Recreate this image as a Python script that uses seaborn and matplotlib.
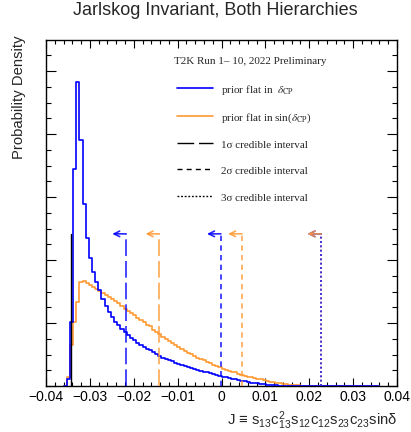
import numpy as np
import pandas as pd
import matplotlib
matplotlib.use("Agg")
import matplotlib.pyplot as plt
from matplotlib.lines import Line2D
from matplotlib.ticker import MultipleLocator, FuncFormatter
from matplotlib.font_manager import FontProperties
import seaborn as sns

# ---------------- data ----------------
J_MIN, J_MAX, N_BINS = -0.036, 0.036, 100

blue_flat_dcp = [
    0, 2.2, 20.3, 68.9, 96.5, 78.1, 57.8, 47.0, 40.6, 36.2,
    33.0, 30.5, 27.6, 25.4, 23.5, 21.9, 20.3, 19.4, 18.1, 17.1,
    16.2, 15.2, 14.6, 13.8, 13.0, 12.4, 11.7, 11.3, 10.8, 10.2,
    9.5, 9.0, 8.6, 8.3, 7.8, 7.3, 7.0, 6.7, 6.2, 5.9,
    5.6, 5.3, 5.1, 4.8, 4.5, 4.3, 4.0, 3.7, 3.5, 3.3,
    3.0, 2.8, 2.5, 2.3, 2.1, 1.9, 1.7, 1.5, 1.3, 1.1,
    0.95, 0.8, 0.64, 0.54, 0.44, 0.35, 0.25, 0.19, 0.13, 0.1,
    0.06, 0.05, 0.03, 0.02, 0.01, 0, 0, 0, 0, 0,
    0, 0, 0, 0, 0, 0, 0, 0, 0, 0,
    0, 0, 0, 0, 0, 0, 0, 0, 0, 0,
]

orange_flat_sindcp = [
    0, 2.9, 13.0, 20.3, 26.7, 33.0, 33.3, 32.7, 32.1, 31.4,
    30.8, 30.2, 29.5, 28.9, 28.3, 27.6, 27.1, 26.5, 25.4, 24.4,
    23.8, 23.2, 22.5, 21.7, 21.0, 20.2, 19.5, 18.9, 17.9, 17.1,
    16.4, 15.7, 14.9, 14.3, 13.7, 13.0, 12.4, 11.7, 11.2, 10.6,
    10.1, 9.5, 9.0, 8.6, 8.2, 7.7, 7.2, 6.8, 6.3, 5.9,
    5.4, 5.1, 4.8, 4.5, 4.3, 3.9, 3.6, 3.3, 3.0, 2.7,
    2.5, 2.3, 2.1, 1.8, 1.6, 1.4, 1.2, 1.0, 0.86, 0.73,
    0.57, 0.44, 0.35, 0.25, 0.16, 0.13, 0.1, 0.06, 0.05, 0.03,
    0.02, 0.01, 0, 0, 0, 0, 0, 0, 0, 0,
    0, 0, 0, 0, 0, 0, 0, 0, 0, 0,
]

interval_lower = -0.0344
blue_upper = {"1": -0.0218, "2": -0.0002, "3": 0.0227}
orange_upper = {"1": -0.0142, "2": 0.0046, "3": 0.0227}
interval_height = 48.3
arrow_len = 0.0031

x_ticks = [-0.04, -0.03, -0.02, -0.01, 0, 0.01, 0.02, 0.03, 0.04]

title = "Jarlskog Invariant, Both Hierarchies"
ylabel = "Probability Density"
xlabel = "J \u2261 s$\\mathregular{_{13}}$c$\\mathregular{_{13}^{2}}$s$\\mathregular{_{12}}$c$\\mathregular{_{12}}$s$\\mathregular{_{23}}$c$\\mathregular{_{23}}$sin\u03b4"
header = "T2K Run 1\u2013 10, 2022 Preliminary"
legend_labels = [
    r"prior flat in  $\delta_{\rm CP}$",
    r"prior flat in sin($\delta_{\rm CP}$)",
    "1\u03c3 credible interval",
    "2\u03c3 credible interval",
    "3\u03c3 credible interval",
]

# ---------------- style ----------------
sns.set_style("ticks")
plt.rcParams["font.family"] = ["Liberation Sans", "DejaVu Sans"]
plt.rcParams["mathtext.fontset"] = "custom"
plt.rcParams["mathtext.rm"] = "Liberation Sans"

BLUE = "#0000ff"
ORANGE = "#ff9933"
ls1 = (0, (10, 3))
ls2 = (0, (3.2, 2.6))
ls3 = (0, (1.2, 1.4))

fig = plt.figure(figsize=(4.11, 4.32), dpi=100)
ax = fig.add_axes([46 / 411, 1 - 386 / 432, 351 / 411, 346 / 432])

edges = list(np.linspace(J_MIN, J_MAX, N_BINS + 1))
centers = [0.5 * (a + b) for a, b in zip(edges[:-1], edges[1:])]
df = pd.DataFrame({"J": centers,
                   "blue": blue_flat_dcp,
                   "orange": orange_flat_sindcp})

sns.histplot(data=df, x="J", weights="blue", bins=edges, element="step",
             fill=False, color=BLUE, linewidth=1.2, ax=ax, zorder=3)
sns.histplot(data=df, x="J", weights="orange", bins=edges, element="step",
             fill=False, color=ORANGE, linewidth=1.2, ax=ax, zorder=2)

# credible interval lines (orange under blue) and arrows (blue under orange)
styles = {"1": ls1, "2": ls2, "3": ls3}
for key in ["1", "2", "3"]:
    for vals, col, al, zl, za in [(orange_upper, ORANGE, 0.85, 4, 6),
                                  (blue_upper, BLUE, 0.85, 5, 5)]:
        xv = vals[key]
        ax.plot([xv, xv], [0, interval_height], color=col, alpha=al,
                linestyle=styles[key], linewidth=1.2, zorder=zl)
        ax.annotate("", xy=(xv - arrow_len, interval_height),
                    xytext=(xv + 0.00005, interval_height),
                    arrowprops=dict(arrowstyle="->", color=col, alpha=al,
                                    lw=1.2, shrinkA=0, shrinkB=0,
                                    mutation_scale=10),
                    zorder=za)
ax.plot([interval_lower, interval_lower], [0, interval_height], color="black",
        linewidth=1.0, zorder=4)

ax.set_xlim(-0.04, 0.04)
ax.set_ylim(0, 346 / 63 * 20)
ax.set_xlabel("")
ax.set_ylabel("")
ax.set_xticks(x_ticks)
ax.xaxis.set_minor_locator(MultipleLocator(0.002))
ax.yaxis.set_major_locator(MultipleLocator(20))
ax.yaxis.set_minor_locator(MultipleLocator(5))
ax.xaxis.set_major_formatter(FuncFormatter(
    lambda v, p: "0" if abs(v) < 1e-9 else f"{v:.2f}".replace("-", "\u2212")))
ax.tick_params(which="both", direction="in", top=True, right=True,
               labelleft=False, width=0.8, colors="black")
ax.tick_params(axis="x", which="major", length=5.8, labelsize=10, pad=3)
ax.tick_params(axis="x", which="minor", length=2.9)
ax.tick_params(axis="y", which="major", length=7.2)
ax.tick_params(axis="y", which="minor", length=3.6)
for s in ax.spines.values():
    s.set_linewidth(1.0)
    s.set_color("black")

# legend
serif = FontProperties(family=["Liberation Serif", "DejaVu Serif"], size=8)
handles = [
    Line2D([], [], color=BLUE, linewidth=1.2),
    Line2D([], [], color=ORANGE, linewidth=1.2),
    Line2D([], [], color="black", linewidth=1.0, linestyle=(0, (12, 3.5))),
    Line2D([], [], color="black", linewidth=1.0, linestyle=(0, (3.6, 3.0))),
    Line2D([], [], color="black", linewidth=1.0, linestyle=(0, (1.3, 1.3))),
]
leg = ax.legend(handles, legend_labels, loc="upper left",
                bbox_to_anchor=((177 - 46) / 351, (386 - 83) / 346),
                frameon=False, prop=serif, handlelength=3.25,
                handleheight=1.4, handletextpad=0.7, labelspacing=1.2,
                borderpad=0, borderaxespad=0)
for t in leg.get_texts():
    t.set_math_fontfamily("stix")

ax.text((174 - 46) / 351, (386 - 62) / 346, header, transform=ax.transAxes,
        fontproperties=serif, ha="left", va="center")

fig.text(215 / 411, 1 - 2 / 432, title, ha="center", va="top", fontsize=13)
fig.text(19 / 411, 1 - 35 / 432, ylabel, rotation=90, ha="center", va="top",
         fontsize=10.7)
fig.text(397 / 411, 1 - 409 / 432, xlabel, ha="right", va="top", fontsize=10.7)

fig.savefig("out.png", dpi=100)
